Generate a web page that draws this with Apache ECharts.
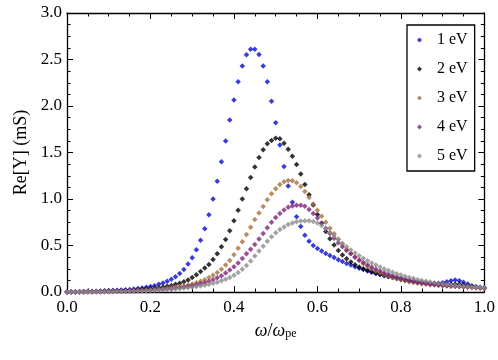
<!DOCTYPE html>
<html><head><meta charset="utf-8">
<script src="https://cdn.jsdelivr.net/npm/echarts@6/dist/echarts.min.js"></script>
<style>html,body{margin:0;padding:0;background:#fff}#c{width:498px;height:360px}</style>
</head><body><div id="c"></div>
<script>
const xs = [0.00,0.01,0.02,0.03,0.04,0.05,0.06,0.07,0.08,0.09,
0.10,0.11,0.12,0.13,0.14,0.15,0.16,0.17,0.18,0.19,
0.20,0.21,0.22,0.23,0.24,0.25,0.26,0.27,0.28,0.29,
0.30,0.31,0.32,0.33,0.34,0.35,0.36,0.37,0.38,0.39,
0.40,0.41,0.42,0.43,0.44,0.45,0.46,0.47,0.48,0.49,
0.50,0.51,0.52,0.53,0.54,0.55,0.56,0.57,0.58,0.59,
0.60,0.61,0.62,0.63,0.64,0.65,0.66,0.67,0.68,0.69,
0.70,0.71,0.72,0.73,0.74,0.75,0.76,0.77,0.78,0.79,
0.80,0.81,0.82,0.83,0.84,0.85,0.86,0.87,0.88,0.89,
0.90,0.91,0.92,0.93,0.94,0.95,0.96,0.97,0.98,0.99,1.00];

const y1eV = [0.000,0.002,0.003,0.004,0.005,0.007,0.008,0.009,0.011,0.013,
0.015,0.017,0.019,0.022,0.025,0.028,0.032,0.037,0.043,0.050,
0.058,0.068,0.082,0.097,0.115,0.136,0.165,0.200,0.243,0.300,
0.368,0.454,0.557,0.680,0.830,1.000,1.190,1.400,1.625,1.850,
2.065,2.260,2.430,2.550,2.610,2.610,2.555,2.430,2.260,2.050,
1.820,1.580,1.350,1.140,0.965,0.810,0.705,0.610,0.546,0.500,
0.468,0.440,0.415,0.393,0.370,0.347,0.328,0.307,0.290,0.272,
0.256,0.241,0.227,0.213,0.200,0.188,0.176,0.165,0.155,0.145,
0.135,0.126,0.117,0.109,0.102,0.096,0.092,0.090,0.090,0.093,
0.100,0.110,0.122,0.128,0.122,0.105,0.085,0.068,0.057,0.050,0.045];

const y2eV = [0.000,0.001,0.001,0.002,0.003,0.003,0.004,0.005,0.006,0.007,
0.008,0.010,0.011,0.013,0.015,0.017,0.020,0.023,0.027,0.031,
0.036,0.041,0.047,0.054,0.062,0.071,0.082,0.095,0.110,0.130,
0.155,0.185,0.220,0.257,0.297,0.350,0.411,0.486,0.565,0.658,
0.765,0.879,1.000,1.110,1.230,1.343,1.447,1.530,1.593,1.630,
1.654,1.647,1.600,1.536,1.460,1.370,1.268,1.157,1.045,0.936,
0.832,0.740,0.650,0.573,0.505,0.447,0.398,0.357,0.322,0.294,
0.270,0.250,0.233,0.218,0.204,0.191,0.180,0.169,0.158,0.148,
0.139,0.130,0.121,0.113,0.106,0.100,0.094,0.089,0.085,0.082,
0.080,0.080,0.082,0.084,0.082,0.076,0.068,0.060,0.053,0.047,0.042];

const y3eV = [0.000,0.001,0.001,0.002,0.002,0.003,0.003,0.004,0.005,0.006,
0.007,0.008,0.009,0.010,0.012,0.013,0.015,0.017,0.019,0.022,
0.025,0.028,0.031,0.035,0.040,0.045,0.051,0.058,0.066,0.076,
0.087,0.100,0.115,0.133,0.155,0.180,0.210,0.245,0.290,0.340,
0.400,0.470,0.540,0.618,0.696,0.779,0.850,0.920,0.993,1.057,
1.110,1.155,1.185,1.200,1.195,1.175,1.135,1.080,1.015,0.947,
0.880,0.814,0.750,0.686,0.626,0.567,0.512,0.460,0.415,0.375,
0.338,0.305,0.276,0.250,0.227,0.206,0.188,0.171,0.156,0.143,
0.131,0.120,0.111,0.103,0.096,0.089,0.084,0.079,0.075,0.071,
0.068,0.065,0.063,0.061,0.058,0.055,0.052,0.049,0.046,0.043,0.040];

const y4eV = [0.000,0.001,0.001,0.001,0.002,0.002,0.003,0.003,0.004,0.005,
0.005,0.006,0.007,0.008,0.009,0.010,0.012,0.013,0.015,0.017,
0.019,0.022,0.025,0.028,0.032,0.036,0.041,0.046,0.052,0.059,
0.067,0.077,0.088,0.100,0.115,0.132,0.152,0.176,0.204,0.236,
0.272,0.313,0.360,0.410,0.460,0.511,0.570,0.630,0.690,0.750,
0.800,0.845,0.882,0.910,0.926,0.932,0.932,0.921,0.888,0.845,
0.795,0.740,0.685,0.630,0.578,0.530,0.487,0.447,0.410,0.376,
0.345,0.316,0.290,0.266,0.245,0.225,0.207,0.191,0.176,0.162,
0.150,0.138,0.127,0.117,0.108,0.100,0.093,0.087,0.081,0.076,
0.072,0.068,0.065,0.062,0.059,0.056,0.053,0.050,0.047,0.044,0.041];

const y5eV = [0.000,0.001,0.001,0.001,0.001,0.002,0.002,0.002,0.003,0.003,
0.004,0.004,0.005,0.006,0.006,0.007,0.008,0.010,0.011,0.013,
0.016,0.018,0.021,0.024,0.027,0.030,0.034,0.038,0.042,0.047,
0.052,0.058,0.065,0.073,0.082,0.093,0.105,0.120,0.137,0.157,
0.180,0.210,0.245,0.285,0.332,0.386,0.440,0.493,0.547,0.594,
0.636,0.672,0.700,0.725,0.743,0.756,0.764,0.767,0.765,0.758,
0.743,0.715,0.680,0.643,0.603,0.565,0.525,0.487,0.452,0.420,
0.390,0.362,0.336,0.312,0.289,0.268,0.248,0.230,0.213,0.197,
0.183,0.169,0.157,0.145,0.134,0.124,0.115,0.107,0.099,0.092,
0.086,0.080,0.075,0.070,0.066,0.062,0.058,0.054,0.051,0.048,0.045];

const seriesNames = ['1 eV','2 eV','3 eV','4 eV','5 eV'];
const seriesValues = [y1eV, y2eV, y3eV, y4eV, y5eV];
const seriesColors = ['#0a0ad0','#000000','#a8703a','#7d237d','#8c8c8c'];
const xTicks = [0, 1, 0.2];
const yTicks = [0, 3, 0.5];

const FONT = '"Liberation Serif", "Times New Roman", Times, serif';
const chart = echarts.init(document.getElementById('c'), null, {renderer:'canvas'});

function frameAxis(pos, range, labels, extra) {
  return Object.assign({
    type: 'value', position: pos, min: range[0], max: range[1], interval: range[2],
    axisLine: {show: true, onZero: false, lineStyle: {color: '#000', width: 1.3}},
    axisTick: {show: true, inside: true, length: 6, lineStyle: {color: '#000', width: 1}},
    minorTick: {show: true, splitNumber: 4, length: 3.5, lineStyle: {color: '#000', width: 1}},
    splitLine: {show: false},
    axisLabel: {show: labels, color: '#000', fontFamily: FONT, fontSize: 16,
      formatter: v => v.toFixed(1)}
  }, extra || {});
}

const series = seriesNames.map((n, i) => ({
  name: n, type: 'scatter', symbol: 'diamond', symbolSize: 5.5,
  itemStyle: {color: seriesColors[i]},
  data: xs.map((x, j) => [x, seriesValues[i][j]]),
  xAxisIndex: 0, yAxisIndex: 0, silent: true, animation: false
}));

chart.setOption({
  animation: false,
  backgroundColor: '#fff',
  grid: {left: 67, right: 11, top: 13, bottom: 68, containLabel: false},
  xAxis: [
    frameAxis('bottom', xTicks, true, {
      name: '{i|ω}{n|/}{i|ω}{s|pe}', nameLocation: 'middle', nameGap: 28,
      axisLabel: {show: true, color: '#000', fontFamily: FONT, fontSize: 17, margin: 7,
        formatter: v => v.toFixed(1)},
      nameTextStyle: {rich: {
        i: {fontFamily: FONT, fontSize: 18, fontStyle: 'italic', color: '#000', lineHeight: 20, verticalAlign: 'bottom'},
        n: {fontFamily: FONT, fontSize: 18, color: '#000', lineHeight: 20, verticalAlign: 'bottom'},
        s: {fontFamily: FONT, fontSize: 12, color: '#000', lineHeight: 11, verticalAlign: 'bottom'}
      }}
    }),
    frameAxis('top', xTicks, false)
  ],
  yAxis: [
    frameAxis('left', yTicks, true, {
      name: 'Re[Y] (mS)', nameLocation: 'middle', nameGap: 36, nameRotate: 90,
      axisLabel: {show: true, color: '#000', fontFamily: FONT, fontSize: 17, margin: 5,
        formatter: v => v.toFixed(1)},
      nameTextStyle: {fontFamily: FONT, fontSize: 18, color: '#000'}
    }),
    frameAxis('right', yTicks, false)
  ],
  legend: {
    data: seriesNames.map(n => ({name: n, icon: 'diamond'})),
    orient: 'vertical', left: 407, top: 25,
    itemWidth: 5, itemHeight: 5, itemGap: 13,
    padding: [7, 7, 7, 10],
    backgroundColor: '#fff', borderColor: '#000', borderWidth: 1.3,
    textStyle: {fontFamily: FONT, fontSize: 16, color: '#000', lineHeight: 14, padding: [0, 0, 0, 10]}
  },
  series: series
});
</script></body></html>
